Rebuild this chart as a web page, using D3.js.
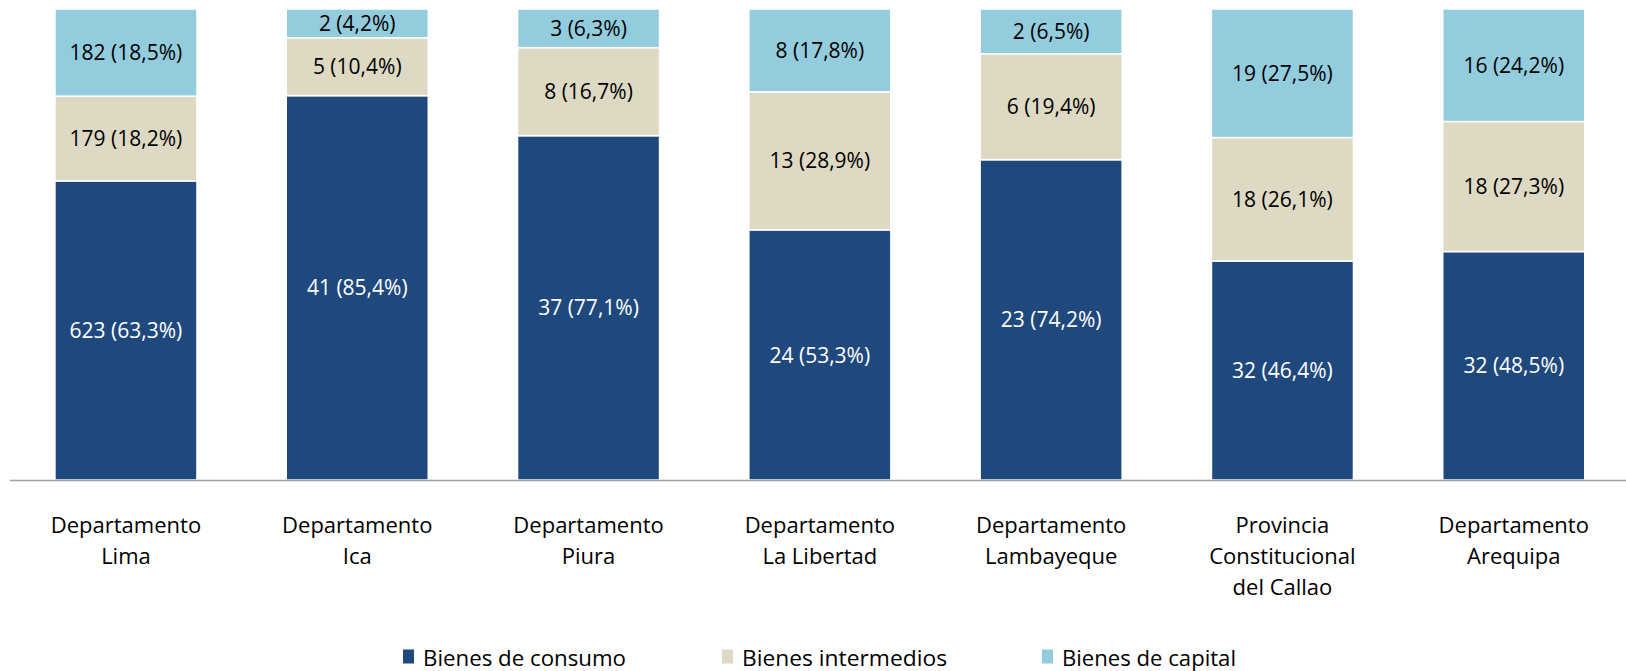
<!DOCTYPE html>
<html>
<head>
<meta charset="utf-8">
<script src="https://cdn.jsdelivr.net/npm/d3@7"></script>
<style>
  body { margin: 0; background: #fff; }
  svg { display: block; font-family: "Open Sans", "Noto Sans", sans-serif; }
</style>
</head>
<body>
<script>
// datos: empresas por tipo de bien, por departamento
var categories = [
  ["Departamento", "Lima"],
  ["Departamento", "Ica"],
  ["Departamento", "Piura"],
  ["Departamento", "La Libertad"],
  ["Departamento", "Lambayeque"],
  ["Provincia", "Constitucional", "del Callao"],
  ["Departamento", "Arequipa"]
];
var seriesNames = ["Bienes de consumo", "Bienes intermedios", "Bienes de capital"];

// cantidades y porcentajes tal como aparecen en las etiquetas
var consumo = [623, 41, 37, 24, 23, 32, 32];
var consumoPct = [63.3, 85.4, 77.1, 53.3, 74.2, 46.4, 48.5];
var intermedios = [179, 5, 8, 13, 6, 18, 18];
var intermediosPct = [18.2, 10.4, 16.7, 28.9, 19.4, 26.1, 27.3];
var capital = [182, 2, 3, 8, 2, 19, 16];
var capitalPct = [18.5, 4.2, 6.3, 17.8, 6.5, 27.5, 24.2];

// altura de cada tramo (% de la barra)
var consumoAlto = [63.5, 81.6, 73.1, 53.1, 68.0, 46.5, 48.5];
var intermediosAlto = [18.0, 12.3, 18.7, 29.3, 22.5, 26.2, 27.6];
var capitalAlto = [18.5, 6.1, 8.2, 17.6, 9.5, 27.3, 23.9];

var colors = ["#1f497d", "#ddd9c3", "#93cddd"];
var textColors = ["#ffffff", "#000000", "#000000"];

var W = 1626, H = 671;
var svg = d3.select("body").append("svg").attr("width", W).attr("height", H);

var rows = categories.map(function (c, i) {
  return {
    key: i,
    consumo: consumoAlto[i], intermedios: intermediosAlto[i], capital: capitalAlto[i],
    n: [consumo[i], intermedios[i], capital[i]],
    p: [consumoPct[i], intermediosPct[i], capitalPct[i]]
  };
});

var x = d3.scaleBand()
  .domain(d3.range(categories.length))
  .range([10.3, 1629.4])
  .paddingInner(0.386)
  .paddingOuter(0.193);

var y = d3.scaleLinear().domain([0, 100]).range([480, 9]);

var stack = d3.stack().keys(["consumo", "intermedios", "capital"]);
var layers = stack(rows);

var fmt = function (n, p) {
  return n + " (" + p.toFixed(1).replace(".", ",") + "%)";
};

var g = svg.selectAll("g.layer")
  .data(layers)
  .enter()
  .append("g")
  .attr("class", "layer");

g.selectAll("rect")
  .data(function (d) { return d.map(function (s) { s.layer = d.index; return s; }); })
  .enter()
  .append("rect")
  .attr("x", function (d) { return x(d.data.key); })
  .attr("width", x.bandwidth())
  .attr("y", function (d) { return y(d[1]); })
  .attr("height", function (d) { return y(d[0]) - y(d[1]); })
  .attr("fill", function (d) { return colors[d.layer]; })
  .attr("stroke", "#ffffff")
  .attr("stroke-width", 1.5);

g.selectAll("text")
  .data(function (d) { return d; })
  .enter()
  .append("text")
  .attr("x", function (d) { return x(d.data.key) + x.bandwidth() / 2; })
  .attr("y", function (d) { return (y(d[0]) + y(d[1])) / 2; })
  .attr("dy", "0.36em")
  .attr("text-anchor", "middle")
  .attr("font-size", 21)
  .attr("fill", function (d) { return textColors[d.layer]; })
  .text(function (d) { return fmt(d.data.n[d.layer], d.data.p[d.layer]); });

// eje x
svg.append("line")
  .attr("x1", 10).attr("x2", W)
  .attr("y1", 480.5).attr("y2", 480.5)
  .attr("stroke", "#a0a0a0")
  .attr("stroke-width", 1.6);

var labels = svg.selectAll("text.cat")
  .data(categories)
  .enter()
  .append("text")
  .attr("class", "cat")
  .attr("text-anchor", "middle")
  .attr("font-size", 22)
  .attr("fill", "#000");

labels.selectAll("tspan")
  .data(function (d, i) { return d.map(function (t) { return { t: t, i: i }; }); })
  .enter()
  .append("tspan")
  .attr("x", function (d) { return x(d.i) + x.bandwidth() / 2; })
  .attr("y", function (d, j) { return 533 + j * 31; })
  .text(function (d) { return d.t; });

// leyenda
var legendX = [403, 722, 1042];
var legendW = [203, 205, 174];
var leg = svg.selectAll("g.legend")
  .data(seriesNames)
  .enter()
  .append("g")
  .attr("class", "legend")
  .attr("transform", function (d, i) { return "translate(" + legendX[i] + ",649.5)"; });

leg.append("rect")
  .attr("width", 11).attr("height", 14)
  .attr("fill", function (d, i) { return colors[i]; });

leg.append("text")
  .attr("x", 20)
  .attr("y", 16)
  .attr("font-size", 22)
  .attr("textLength", function (d, i) { return legendW[i]; })
  .attr("lengthAdjust", "spacingAndGlyphs")
  .text(function (d) { return d; });
</script>
</body>
</html>
